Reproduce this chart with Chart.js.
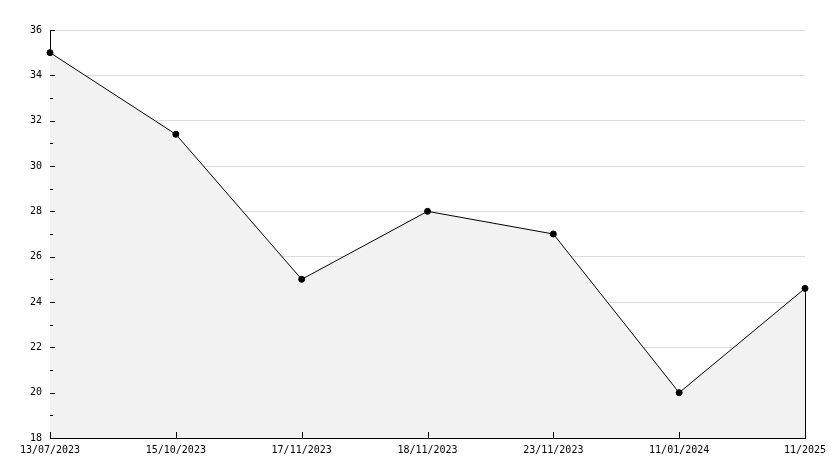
<!DOCTYPE html>
<html>
<head>
<meta charset="utf-8">
<script src="https://cdn.jsdelivr.net/npm/chart.js@4"></script>
<style>
    body { margin: 0; background: #fff; }
    #wrap { width: 834px; height: 468px; }
</style>
</head>
<body>
<div id="wrap"><canvas id="lineChart"></canvas></div>
<script>
const dates = ['13/07/2023', '15/10/2023', '17/11/2023', '18/11/2023', '23/11/2023', '11/01/2024', '11/2025'];
const values = [35, 31.4, 25, 28, 27, 20, 24.6];
const yMin = 18;
const yMax = 36;

// inward tick marks plus the closing edge of the filled area
const tickMarks = {
    id: 'tickMarks',
    afterDraw(chart) {
        const ctx = chart.ctx;
        const x = chart.scales.x;
        const y = chart.scales.y;
        const area = chart.chartArea;
        ctx.save();
        ctx.strokeStyle = '#000';
        ctx.lineWidth = 1;
        ctx.beginPath();
        for (let v = yMin; v <= yMax; v++) {
            const py = Math.round(y.getPixelForValue(v)) + 0.5;
            const len = v % 2 === 0 ? 5 : 3;
            ctx.moveTo(area.left, py);
            ctx.lineTo(area.left + len, py);
        }
        dates.forEach((d, i) => {
            const px = Math.round(x.getPixelForValue(i)) + 0.5;
            ctx.moveTo(px, area.bottom);
            ctx.lineTo(px, area.bottom - 6);
        });
        const last = values.length - 1;
        const lx = Math.round(x.getPixelForValue(last)) + 0.5;
        ctx.moveTo(lx, y.getPixelForValue(values[last]));
        ctx.lineTo(lx, area.bottom);
        ctx.stroke();
        ctx.restore();
    }
};

const ctx = document.getElementById('lineChart').getContext('2d');
new Chart(ctx, {
    type: 'line',
    data: {
        labels: dates,
        datasets: [{
            data: values,
            borderColor: '#000',
            borderWidth: 1,
            backgroundColor: '#f2f2f2',
            fill: 'start',
            tension: 0,
            pointRadius: 3,
            pointBackgroundColor: '#000',
            pointBorderColor: '#000',
            pointBorderWidth: 1
        }]
    },
    options: {
        responsive: true,
        maintainAspectRatio: false,
        animation: false,
        layout: { padding: { top: 30, right: 29, left: 0, bottom: 0 } },
        plugins: {
            legend: { display: false },
            tooltip: { enabled: false }
        },
        scales: {
            x: {
                offset: false,
                grid: { display: false },
                border: { display: true, color: '#000', width: 1 },
                ticks: {
                    color: '#000',
                    font: { family: 'DejaVu Sans Mono', size: 10 },
                    maxRotation: 0,
                    autoSkip: false,
                    padding: -2
                },
                afterFit(scale) { scale.height = 30; }
            },
            y: {
                min: yMin,
                max: yMax,
                grid: {
                    drawTicks: false,
                    color: c => (c.tick && c.tick.value % 2 === 0 && c.tick.value !== yMin) ? '#dddddd' : 'rgba(0,0,0,0)'
                },
                border: { display: true, color: '#000', width: 1 },
                ticks: {
                    stepSize: 1,
                    autoSkip: false,
                    color: '#000',
                    font: { family: 'DejaVu Sans Mono', size: 10 },
                    padding: 8,
                    callback: v => v % 2 === 0 ? v : ''
                },
                afterFit(scale) { scale.width = 50; }
            }
        }
    },
    plugins: [tickMarks]
});
</script>
</body>
</html>
